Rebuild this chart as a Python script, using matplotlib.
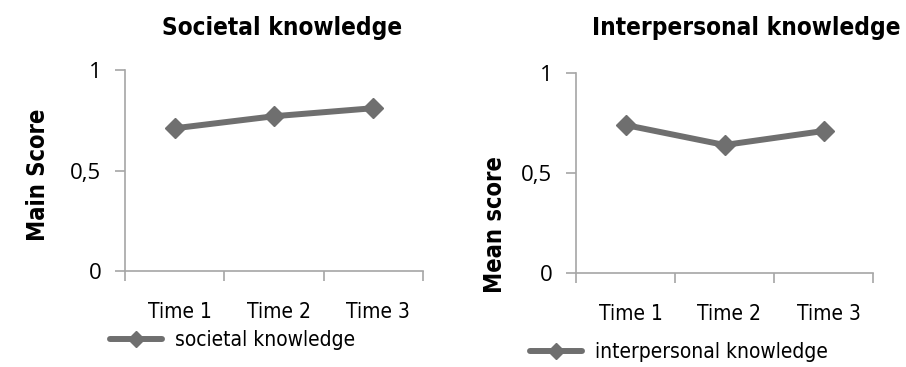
import matplotlib
matplotlib.use("Agg")
import matplotlib.pyplot as plt
import numpy as np

# mean scores at each measurement point
times = ["Time 1", "Time 2", "Time 3"]
societal = [0.71, 0.77, 0.81]
interpersonal = [0.74, 0.64, 0.71]

line_col = "#6f6f6f"
axis_col = "#a6a6a6"
narrow = dict(family="DejaVu Sans", stretch="condensed")

fig = plt.figure(figsize=(9.06, 3.67), dpi=100)


def panel(rect, values, title, ylabel, label, leg_xy, title_x, ylab_xy):
    ax = fig.add_axes(rect)
    xs = np.arange(len(times)) + 0.5
    ax.plot(xs, values, color=line_col, lw=4.3, marker="D", ms=10,
            label=label, solid_capstyle="round")
    ax.set_xlim(0, len(times))
    ax.set_ylim(0, 1)
    ax.set_yticks([0, 0.5, 1])
    ax.set_yticklabels(["0", "0,5", "1"], fontsize=16, family="Open Sans")
    # category labels sit between the boundary ticks
    ax.set_xticks(np.arange(len(times) + 1))
    ax.set_xticklabels([])
    ax.set_xticks(xs + 0.05, minor=True)
    ax.set_xticklabels(times, minor=True, fontsize=15, **narrow)
    ax.tick_params(axis="x", which="minor", length=0, pad=22)
    ax.tick_params(axis="both", which="major", length=7, color=axis_col, width=1.2)
    ax.tick_params(axis="y", pad=10)
    for s in ["top", "right"]:
        ax.spines[s].set_visible(False)
    for s in ["left", "bottom"]:
        ax.spines[s].set_color(axis_col)
        ax.spines[s].set_linewidth(1.2)
    fig.text(title_x, 0.925, title, ha="center", va="center", fontsize=17.5,
             fontweight="bold", **narrow)
    fig.text(ylab_xy[0], ylab_xy[1], ylabel, ha="center", va="center", rotation=90,
             fontsize=17, fontweight="bold", **narrow)
    ax.legend(loc="center left", bbox_to_anchor=leg_xy, bbox_transform=fig.transFigure,
              frameon=False, handlelength=2.5, handletextpad=0.6, markerscale=0.8,
              prop=dict(size=15, **narrow), borderpad=0, borderaxespad=0)
    return ax


panel([125 / 906, 96 / 367, 298 / 906, 201 / 367], societal,
      "Societal knowledge", "Main Score", "societal knowledge",
      (110 / 906, 1 - 340 / 367), 282 / 906, (38 / 906, 1 - 175 / 367))
panel([576 / 906, 94 / 367, 297 / 906, 200 / 367], interpersonal,
      "Interpersonal knowledge", "Mean score", "interpersonal knowledge",
      (530 / 906, 1 - 352 / 367), 746 / 906, (495 / 906, 1 - 225 / 367))

fig.savefig("out.png", dpi=100)
